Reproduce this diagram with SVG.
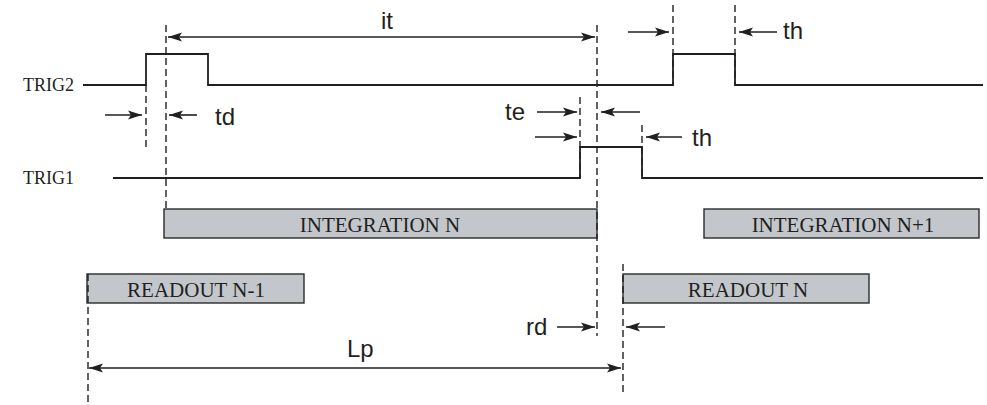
<svg xmlns="http://www.w3.org/2000/svg" width="987" height="405" viewBox="0 0 987 405">
<style>
.sig{fill:none;stroke:#231f20;stroke-width:1.8}
.dash{fill:none;stroke:#231f20;stroke-width:1.4;stroke-dasharray:7 4}
.arr{fill:none;stroke:#231f20;stroke-width:1.6;marker-end:url(#ah)}
.dbl{fill:none;stroke:#231f20;stroke-width:1.6;marker-end:url(#ah);marker-start:url(#ahs)}
.box{fill:#c3c7cc;stroke:#2b2b2b;stroke-width:1.4}
.lbl{font-family:"Liberation Sans",Arial,sans-serif;font-size:24px;fill:#231f20}
.sig-lbl{font-family:"Liberation Serif","Times New Roman",serif;font-size:18px;fill:#231f20;text-anchor:end}
.box-lbl{font-family:"Liberation Serif","Times New Roman",serif;font-size:21px;fill:#231f20;text-anchor:middle}
</style>
<defs>
<marker id="ah" markerUnits="userSpaceOnUse" markerWidth="16" markerHeight="12" refX="14" refY="6" orient="auto">
<path d="M0,1.5 L14,6 L0,10.5 L3,6 z" fill="#231f20"/>
</marker>
<marker id="ahs" markerUnits="userSpaceOnUse" markerWidth="16" markerHeight="12" refX="0" refY="6" orient="auto">
<path d="M14,1.5 L0,6 L14,10.5 L11,6 z" fill="#231f20"/>
</marker>
</defs>

<g id="trig2">
<text class="sig-lbl" x="74" y="91">TRIG2</text>
<polyline class="sig" points="83,85 146,85 146,54 208,54 208,85 673,85 673,54 735,54 735,85 983,85"/>
</g>
<g id="trig1">
<text class="sig-lbl" x="74" y="184">TRIG1</text>
<polyline class="sig" points="113,178 580,178 580,147 642,147 642,178 983,178"/>
</g>

<g id="integration-n">
<rect class="box" x="164" y="209" width="433" height="29"/>
<text class="box-lbl" x="380" y="232">INTEGRATION N</text>
</g>
<g id="integration-n1">
<rect class="box" x="704" y="209" width="275" height="29"/>
<text class="box-lbl" x="843" y="232">INTEGRATION N+1</text>
</g>
<g id="readout-n-1">
<rect class="box" x="87" y="274" width="217" height="29"/>
<text class="box-lbl" x="196" y="297">READOUT N-1</text>
</g>
<g id="readout-n">
<rect class="box" x="623" y="274" width="246" height="29"/>
<text class="box-lbl" x="748" y="297">READOUT N</text>
</g>

<g id="connectors">
<line class="dash" x1="146" y1="85" x2="146" y2="148"/>
<line class="dash" x1="166" y1="25" x2="166" y2="209"/>
<line class="dash" x1="597" y1="25" x2="597" y2="336"/>
<line class="dash" x1="580" y1="97" x2="580" y2="178"/>
<line class="dash" x1="642" y1="125" x2="642" y2="178"/>
<line class="dash" x1="673" y1="5" x2="673" y2="85"/>
<line class="dash" x1="735" y1="5" x2="735" y2="85"/>
<line class="dash" x1="623" y1="264" x2="623" y2="393"/>
<line class="dash" x1="88" y1="274" x2="88" y2="405"/>

<line class="dbl" x1="168" y1="37" x2="595" y2="37"/>
<line class="arr" x1="105" y1="115" x2="142" y2="115"/>
<line class="arr" x1="197" y1="115" x2="169" y2="115"/>
<line class="arr" x1="628" y1="32" x2="669" y2="32"/>
<line class="arr" x1="777" y1="32" x2="739" y2="32"/>
<line class="arr" x1="537" y1="112" x2="577" y2="112"/>
<line class="arr" x1="640" y1="112" x2="601" y2="112"/>
<line class="arr" x1="535" y1="137" x2="577" y2="137"/>
<line class="arr" x1="682" y1="137" x2="646" y2="137"/>
<line class="arr" x1="557" y1="327" x2="595" y2="327"/>
<line class="arr" x1="665" y1="327" x2="626" y2="327"/>
<line class="dbl" x1="89" y1="368" x2="621" y2="368"/>
</g>

<g id="labels">
<text class="lbl" x="381" y="29">it</text>
<text class="lbl" x="215" y="125">td</text>
<text class="lbl" x="783" y="39">th</text>
<text class="lbl" x="505" y="120">te</text>
<text class="lbl" x="692" y="146">th</text>
<text class="lbl" x="526" y="335">rd</text>
<text class="lbl" x="347" y="357" font-size="25">Lp</text>
</g>
</svg>
